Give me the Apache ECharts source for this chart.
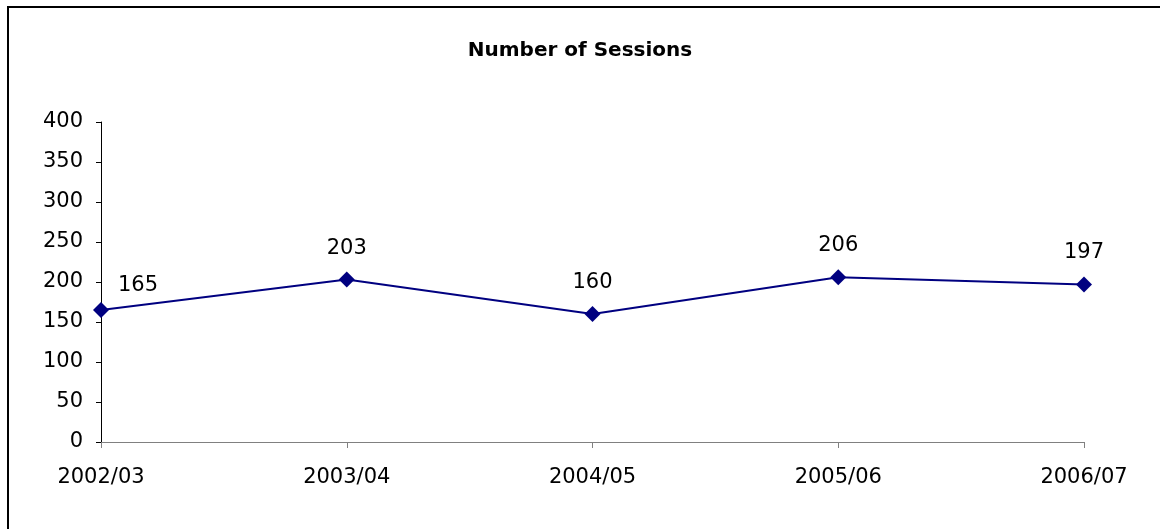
<!DOCTYPE html>
<html><head><meta charset="utf-8">
<script src="https://cdn.jsdelivr.net/npm/echarts@6/dist/echarts.min.js"></script>
<style>html,body{margin:0;padding:0;background:#fff;}#c{width:1160px;height:529px;}</style>
</head><body><div id="c"></div>
<script>
const categories = ['2002/03','2003/04','2004/05','2005/06','2006/07'];
const sessions = [165, 203, 160, 206, 197];
const yTicks = {min: 0, max: 400, interval: 50};

const font = '"DejaVu Sans", "Liberation Sans", Arial, sans-serif';
const chart = echarts.init(document.getElementById('c'));
chart.setOption({
  animation: false,
  backgroundColor: '#fff',
  graphic: [{type:'rect', shape:{x:8, y:7, width:1200, height:600}, style:{fill:'none', stroke:'#000', lineWidth:2}, silent:true}],
  title: {text:'Number of Sessions', left:'center', top:36, textStyle:{fontFamily:font, fontSize:20, fontWeight:'bold', color:'#000'}},
  grid: {left:101, right:76, top:122, bottom:87},
  xAxis: {type:'category', data:categories, boundaryGap:false,
    axisLine:{lineStyle:{color:'#808080', width:1}},
    axisTick:{show:true, length:6, alignWithLabel:true, lineStyle:{color:'#808080'}},
    axisLabel:{fontFamily:font, fontSize:21, color:'#000', margin:25},
    splitLine:{show:false}},
  yAxis: {type:'value', min:yTicks.min, max:yTicks.max, interval:yTicks.interval,
    axisLine:{show:true, lineStyle:{color:'#000', width:1}},
    axisTick:{show:true, length:5, lineStyle:{color:'#000'}},
    axisLabel:{fontFamily:font, fontSize:21, color:'#000', margin:18, padding:[3,0,0,0]},
    splitLine:{show:false}},
  series: [{type:'line', data: sessions.map((v,i)=> i===0 ? {value:v, label:{offset:[37,7]}} : v),
    symbol:'diamond', symbolSize:16, lineStyle:{color:'#000080', width:2}, itemStyle:{color:'#000080'},
    label:{show:true, position:'top', distance:13, fontFamily:font, fontSize:21, color:'#000'}}]
});
</script></body></html>
